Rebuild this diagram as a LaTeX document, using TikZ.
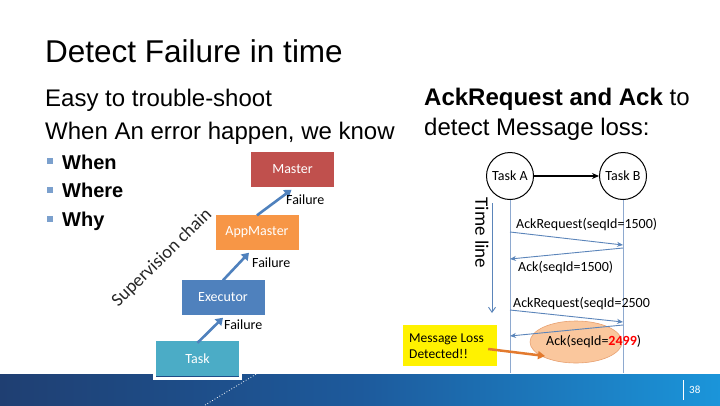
\documentclass[tikz,border=0pt]{standalone}
\usepackage{fontspec}
\setmainfont{Liberation Sans}
\newfontfamily\calfont{Carlito}
\usetikzlibrary{arrows.meta,shapes.geometric}
\definecolor{mred}{HTML}{C0504D}
\definecolor{morange}{HTML}{F79646}
\definecolor{mblue}{HTML}{4F81BD}
\definecolor{mteal}{HTML}{4BACC6}
\definecolor{lifeline}{HTML}{8EA9CF}
\definecolor{seqarrow}{HTML}{5B85BA}
\definecolor{bandL}{HTML}{1F3F72}
\definecolor{bandM}{HTML}{1D5A9C}
\definecolor{bandR}{HTML}{1B95DA}
\definecolor{ellfill}{HTML}{FAC79D}
\definecolor{ellline}{HTML}{E8A070}
\definecolor{lossarrow}{HTML}{E37A2E}
\tikzset{
  box/.style={draw=none, minimum width=83pt, minimum height=35pt, inner sep=0pt,
    text=white, font=\calfont\fontsize{14}{16}\selectfont},
  fail/.style={anchor=west, inner sep=0pt, font=\calfont\fontsize{14}{16}\selectfont},
  uparrow/.style={draw=mblue, line width=2.6pt, -{Triangle[length=7pt,width=9pt]}},
  seqtxt/.style={anchor=west, inner sep=0pt, font=\calfont\fontsize{14}{16}\selectfont},
  msg/.style={draw=seqarrow, line width=0.9pt, -{Stealth[length=6pt,width=5pt]}},
  bullet/.style={fill=mblue!75, minimum size=6pt, inner sep=0pt},
  bultxt/.style={anchor=base west, inner sep=0pt, font=\bfseries\fontsize{20}{24}\selectfont},
  big/.style={anchor=base west, inner sep=0pt, font=\fontsize{24}{28}\selectfont},
  circ/.style={draw, circle, line width=1pt, minimum size=47pt, inner sep=0pt,
    font=\calfont\fontsize{14}{16}\selectfont}
}
\begin{document}
\begin{tikzpicture}[x=1pt,y=-1pt]
\useasboundingbox (0,0) rectangle (720,405);
\fill[white] (0,0) rectangle (720,405);

% bottom band
\shade[left color=bandL, right color=bandR, middle color=bandM] (0,374) rectangle (720,405);
\draw[white, line width=0.8pt] (683,380) -- (683,400);
\node[anchor=west, inner sep=0pt, text=white, font=\calfont\fontsize{11}{13}\selectfont] (pg) at (689,390) {38};
\draw[white, dotted, line width=0.8pt] (205,405) -- (258,373);

% headings
\node[anchor=base west, inner sep=0pt, font=\fontsize{31.5}{36}\selectfont] (title) at (45,62) {Detect Failure in time};
\node[big] (easy) at (45,106) {Easy to trouble-shoot};
\node[big] (when) at (45,139) {When An error happen, we know};
\node[big] (ack1) at (424,105) {\textbf{AckRequest and Ack} to};
\node[big] (ack2) at (424,135) {detect Message loss:};

% bullets
\node[bullet] (b1) at (50,161) {};
\node[bultxt] (t1) at (62,169) {When};
\node[bullet] (b2) at (50,190) {};
\node[bultxt] (t2) at (62,197) {Where};
\node[bullet] (b3) at (50,219) {};
\node[bultxt] (t3) at (62,226) {Why};

% supervision chain
\node[box, fill=mred] (master) at (292.5,169) {Master};
\node[box, fill=morange] (appm) at (257,232) {AppMaster};
\node[box, fill=mblue] (exec) at (223,297) {Executor};
\draw[white, line width=3pt] (154.5,338.5) rectangle (240.5,378.5);
\node[box, fill=mteal] (task) at (197.5,358.5) {Task};

\draw[uparrow] ([yshift=-1pt]appm.north) -- ([xshift=-1pt,yshift=-3pt]master.south);
\node[fail] (f1) at (286,200) {Failure};
\draw[uparrow] ([yshift=-1pt]exec.north) -- ([xshift=-8pt,yshift=-3pt]appm.south);
\node[fail] (f2) at (252,263) {Failure};
\draw[uparrow] ([yshift=-2pt]task.north) -- ([yshift=-3pt]exec.south);
\node[fail] (f3) at (224,325) {Failure};

\node[rotate=44.5, inner sep=0pt, text=black!85, font=\calfont\fontsize{18.5}{20}\selectfont] (sup) at (162,258) {Supervision chain};

% sequence diagram
\node[circ] (ta) at (510,176) {Task A};
\node[circ] (tb) at (623,176) {Task B};
\draw[line width=1.2pt, -{Stealth[length=7pt,width=6pt]}] (ta) -- (tb);
\coordinate (laE) at (510,373);
\coordinate (lbE) at (623,373);
\draw[lifeline, line width=1pt] (ta.south) -- (laE);
\draw[lifeline, line width=1pt] (tb.south) -- (lbE);

\node[rotate=-90, inner sep=0pt, font=\calfont\fontsize{19}{21}\selectfont] (tl) at (482,233) {Time line};
\coordinate (tls) at (492,203);
\coordinate (tle) at (492,313);
\draw[seqarrow, line width=0.9pt, -{Straight Barb[length=5pt,width=7pt]}] (tls) -- (tle);

\coordinate (r1s) at (510,232); \coordinate (r1e) at (623,245);
\coordinate (k1s) at (623,248); \coordinate (k1e) at (510,259);
\coordinate (r2s) at (510,310); \coordinate (r2e) at (623,322);
\coordinate (k2s) at (623,325); \coordinate (k2e) at (510,336);

\node[ellipse, fill=ellfill, draw=ellline, line width=0.6pt, minimum width=92pt, minimum height=42pt] (ell) at (576,342) {};

\draw[msg] (r1s) -- (r1e);
\draw[msg] (k1s) -- (k1e);
\draw[msg] (r2s) -- (r2e);
\draw[msg] (k2s) -- (k2e);

\node[seqtxt] (l1) at (516,225) {AckRequest(seqId=1500)};
\node[seqtxt] (l2) at (518,268) {Ack(seqId=1500)};
\node[seqtxt] (l3) at (513,304) {AckRequest(seqId=2500};
\node[seqtxt] (l4) at (546,342) {Ack(seqId=\textcolor{red}{\textbf{2499}})};

\node[fill=yellow, minimum width=94pt, minimum height=41pt, inner sep=0pt] (loss) at (450,345.5) {};
\node[anchor=west, align=left, inner sep=0pt, font=\calfont\fontsize{13.5}{16}\selectfont] (losst) at (409,346) {Message Loss\\Detected!!};
\draw[lossarrow, line width=2.5pt, -{Triangle[length=7pt,width=8pt]}] ([shift={(-9,3.5)}]loss.east) -- ([shift={(-31,14)}]ell.center);
\end{tikzpicture}
\end{document}
